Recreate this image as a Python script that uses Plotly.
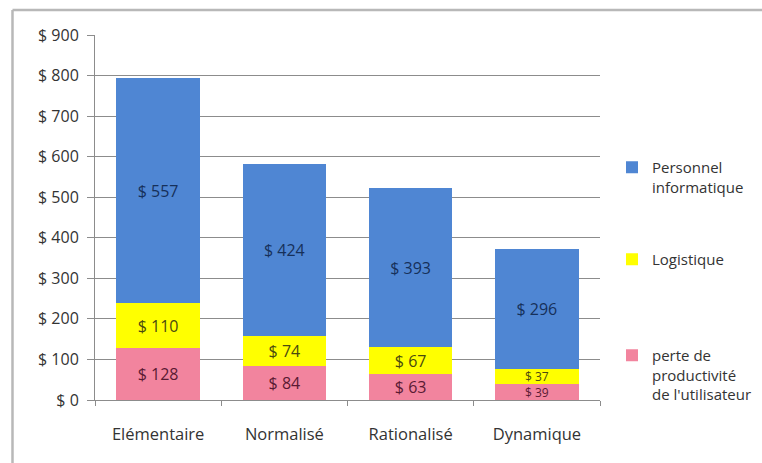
import plotly.graph_objects as go

categories = ["Elémentaire", "Normalisé", "Rationalisé", "Dynamique"]
perte = [128, 84, 63, 39]
logistique = [110, 74, 67, 37]
personnel = [557, 424, 393, 296]
tick_vals = [0, 100, 200, 300, 400, 500, 600, 700, 800, 900]
tick_text = ["$ %d" % v for v in tick_vals]

FONT = "Open Sans"
W, H = 762, 463
L, T = 95, 35
R, B = W - 603, H - 400
pw, ph = W - L - R, H - T - B

def px_x(x):
    return (x - L) / pw

def px_y(y):
    return (H - B - y) / ph

fig = go.Figure()
series = [
    ("perte de<br>productivité<br>de l'utilisateur", perte, "#f2849e", "#5a1a33", "legend3"),
    ("Logistique", logistique, "#ffff00", "#4a4a10", "legend2"),
    ("Personnel<br>informatique", personnel, "#4f86d3", "#16305a", "legend"),
]
for name, vals, col, tcol, lg in series:
    sizes = [16 if v >= 45 else 12 for v in vals]
    fig.add_trace(go.Bar(
        x=categories, y=vals, name=name, marker=dict(color=col, line=dict(width=0)),
        text=["$ %d" % v for v in vals], textposition="inside",
        insidetextanchor="middle", constraintext="none",
        textfont=dict(family=FONT, size=sizes, color=tcol),
        legend=lg, showlegend=True,
    ))

legend_common = dict(font=dict(family=FONT, size=15, color="#333333"),
                     bgcolor="rgba(0,0,0,0)", xanchor="left", yanchor="top",
                     xref="container", yref="container",
                     x=612 / W, valign="top", itemwidth=30)

fig.update_layout(
    width=W, height=H,
    margin=dict(l=L, r=R, t=T, b=B),
    barmode="stack", bargap=0.34,
    paper_bgcolor="white", plot_bgcolor="white",
    showlegend=True,
    font=dict(family=FONT, size=15, color="#333333"),
    legend=dict(**legend_common, y=1 - 151 / H),
    legend2=dict(**legend_common, y=1 - 243 / H),
    legend3=dict(**legend_common, y=1 - 339 / H),
    xaxis=dict(showline=True, linecolor="#8c8c8c", linewidth=1,
               ticks="outside", tickson="boundaries", ticklen=5, tickcolor="#8c8c8c",
               ticklabelstandoff=19, tickfont=dict(family=FONT, size=16.5, color="#333333")),
    yaxis=dict(range=[0, 900], tickvals=tick_vals, ticktext=tick_text,
               showline=True, linecolor="#8c8c8c", linewidth=1,
               showgrid=True, gridcolor="#8c8c8c", gridwidth=1,
               ticks="outside", ticklen=7, tickcolor="#8c8c8c",
               ticklabelstandoff=5, zeroline=False,
               tickfont=dict(family=FONT, size=16, color="#333333")),
    shapes=[
        dict(type="line", xref="paper", yref="paper",
             x0=px_x(12), x1=px_x(12), y0=px_y(470), y1=px_y(10),
             line=dict(color="#b8b8b8", width=2.5), layer="below"),
        dict(type="line", xref="paper", yref="paper",
             x0=px_x(12), x1=px_x(770), y0=px_y(10), y1=px_y(10),
             line=dict(color="#b8b8b8", width=2.5), layer="below"),
    ],
)

fig.write_html(
    "out.html",
    config={"displayModeBar": False},
    post_script="document.body.style.margin='0';document.body.style.overflow='hidden';",
)
